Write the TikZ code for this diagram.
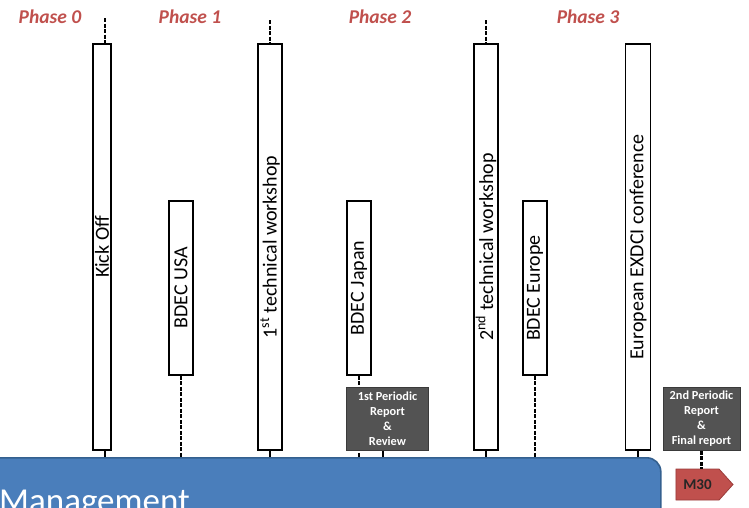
\documentclass[tikz,border=0pt]{standalone}
\usepackage{fontspec}
\setmainfont{Carlito}
\usetikzlibrary{shapes.symbols}
\definecolor{phasered}{HTML}{C0504D}
\definecolor{barblue}{HTML}{4A7EBB}
\definecolor{barborder}{HTML}{34608F}
\definecolor{graybox}{HTML}{535353}
\definecolor{grayborder}{HTML}{3A3A3A}
\definecolor{msred}{HTML}{C0504D}
\definecolor{msborder}{HTML}{9A3C3A}
\definecolor{mstext}{HTML}{262626}
\begin{document}
\begin{tikzpicture}[x=1pt,y=-1pt,
  phase/.style={text=phasered, inner sep=0pt, font=\fontsize{19.5}{22}\selectfont\bfseries\itshape},
  event/.style={draw=black, line width=1.8pt, fill=white, rotate=90, inner sep=0pt,
    font=\fontsize{20}{24}\selectfont},
  dashline/.style={draw=black, line width=2.2pt, dash pattern=on 4pt off 1.5pt},
  stub/.style={draw=black, line width=1.8pt},
  report/.style={draw=grayborder, line width=0.8pt, fill=graybox, text=white, align=center,
    inner sep=0pt, font=\fontsize{12.3}{15}\selectfont\bfseries},
  milestone/.style={shape=signal, signal to=east, signal pointer angle=96, draw=msborder,
    line width=0.8pt, fill=msred, inner sep=0pt, text=mstext,
    font=\fontsize{15}{18}\selectfont\bfseries},
  bar/.style={draw=barborder, line width=1.6pt, fill=barblue, rounded corners=14pt}]
\useasboundingbox (0,0) rectangle (749,507);
\clip (0,0) rectangle (749,507);

% phase labels
\node[phase] (p0) at (50,17) {Phase 0};
\node[phase] (p1) at (190,17) {Phase 1};
\node[phase] (p2) at (380,17) {Phase 2};
\node[phase] (p3) at (588,17) {Phase 3};

% management bar
\node[bar, anchor=north west, minimum width=680pt, minimum height=100pt] (mgmt) at (-20,457) {};
\node[anchor=base west, text=white, inner sep=0pt, font=\fontsize{35}{40}\selectfont] (mtext) at (-1,512) {Management};

% free ends of the top connectors
\coordinate (kickTop) at (105,18);
\coordinate (w1Top) at (270,20);
\coordinate (w2Top) at (486,20);

% events
\node[event, minimum width=406pt, minimum height=18pt] (kick) at (102,247) {Kick Off};
\node[event, minimum width=406pt, minimum height=24pt] (w1) at (270,247) {1\textsuperscript{st} technical workshop};
\node[event, minimum width=406pt, minimum height=24pt] (w2) at (486,247) {2\textsuperscript{nd} technical workshop};
\node[event, minimum width=406pt, minimum height=25pt] (conf) at (638,247) {European EXDCI conference};
\node[event, minimum width=174pt, minimum height=24pt] (usa) at (181,288) {BDEC USA};
\node[event, minimum width=174pt, minimum height=24pt] (japan) at (359,288) {BDEC Japan};
\node[event, minimum width=174pt, minimum height=24pt] (europe) at (535,288) {BDEC Europe};

% top connectors
\draw[dashline] (kickTop) -- ([xshift=3pt]kick.east);
\draw[dashline] (w1Top) -- (w1.east);
\draw[dashline] (w2Top) -- (w2.east);

% bottom connectors
\draw[stub] ([xshift=3pt]kick.west) -- ([xshift=3pt]kick.west |- mgmt.north);
\draw[stub] (w1.west) -- (w1.west |- mgmt.north);
\draw[stub] (w2.west) -- (w2.west |- mgmt.north);
\draw[stub] (conf.west) -- (conf.west |- mgmt.north);
\draw[dashline] (usa.west) -- (usa.west |- mgmt.north);
\draw[dashline] (japan.west) -- (japan.west |- mgmt.north);
\draw[dashline] (europe.west) -- (europe.west |- mgmt.north);

% reports
\node[report, minimum width=82pt, minimum height=63pt] (rep1) at (387.5,419) {1st Periodic\\Report\\\&\\Review};
\node[report, minimum width=77pt, minimum height=63pt] (rep2) at (701.5,419) {2nd Periodic\\Report\\\&\\Final report};
\draw[stub] ([xshift=-4.5pt]rep1.south) -- ([xshift=-4.5pt]rep1.south |- mgmt.north);

% milestone
\node[milestone, minimum width=57pt, minimum height=31pt] (m30) at (697.5,484.5) {M30};
\draw[dashline] (rep2.south) -- (rep2.south |- m30.north);
\end{tikzpicture}
\end{document}
